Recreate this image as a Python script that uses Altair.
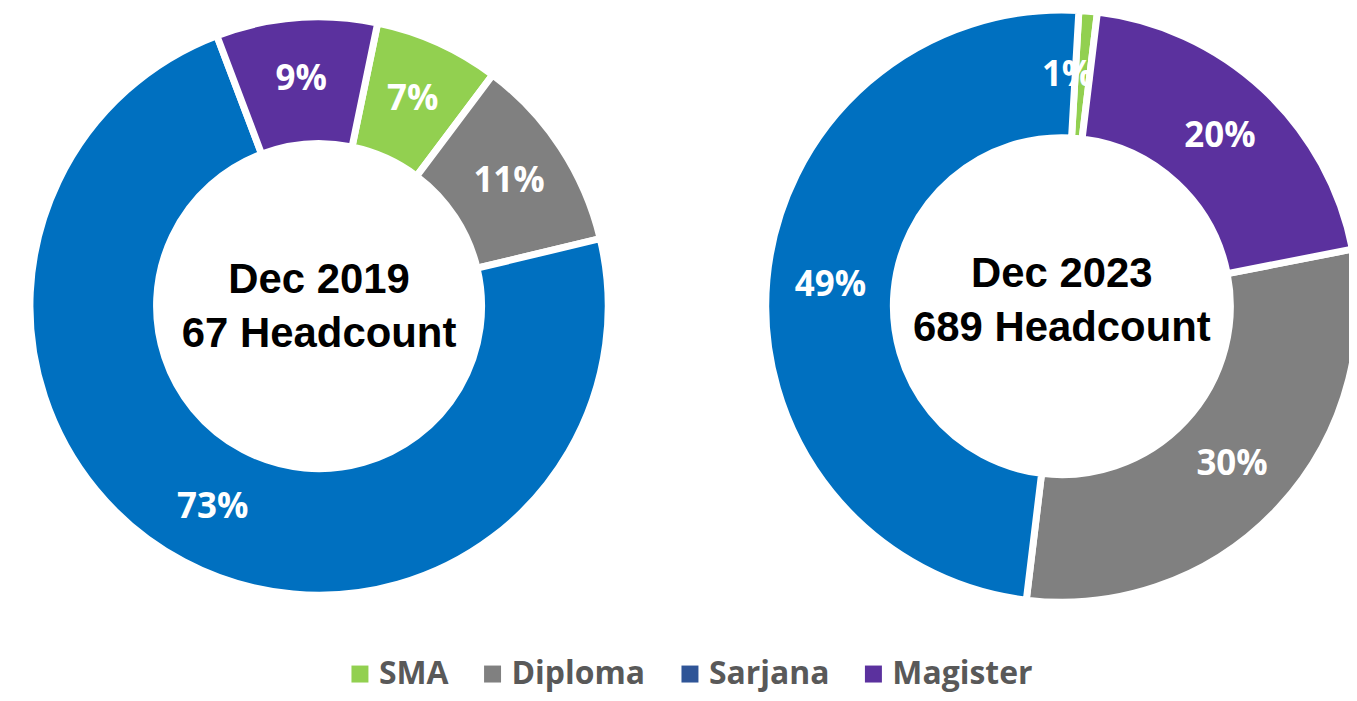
import math
import altair as alt
import pandas as pd

# ---------------- data ----------------
categories = ["SMA", "Diploma", "Sarjana", "Magister"]
slice_colors = ["#92D050", "#808080", "#0070C0", "#5B319E"]
legend_colors = ["#92D050", "#808080", "#2F5597", "#5B319E"]

periods = ["Dec 2019", "Dec 2023"]
headcounts = [67, 689]

# percentages per category (SMA, Diploma, Sarjana, Magister)
pct_2019 = [7, 11, 73, 9]
pct_2023 = [1, 30, 49, 20]

# clockwise drawing order of the slices in each donut
order_2019 = ["SMA", "Diploma", "Sarjana", "Magister"]
order_2023 = ["SMA", "Magister", "Diploma", "Sarjana"]

# rotation of the first slice (degrees, clockwise from 12 o'clock)
start_deg = [11.7, 3.3]

# ---------------- tables ----------------
rows = []
for period, pcts, order in [(periods[0], pct_2019, order_2019), (periods[1], pct_2023, order_2023)]:
    for cat, v in zip(categories, pcts):
        rows.append({"panel": period, "cat": cat, "pct": v,
                     "ord": order.index(cat), "label": f"{v}%"})
df = pd.DataFrame(rows)
centers = pd.DataFrame({"panel": periods, "hc": headcounts})

x_scale = alt.Scale(type="point", domain=periods, range=[312, 1057], padding=0)
# data-driven domain (sorted in category order) for the slice colours
fill_scale = alt.Scale(range=slice_colors)


def donut(i, outer, inner, label_r, text_y, small_dx):
    p = periods[i]
    a0 = math.radians(start_deg[i])
    theta = alt.Theta("pct:Q", stack=True,
                      scale=alt.Scale(range=[a0, a0 + 2 * math.pi]))
    base = alt.Chart(df).transform_filter(alt.datum.panel == p)
    common = dict(
        x=alt.X("panel:N", scale=x_scale, axis=None),
        y=alt.value(298),
        theta=theta,
        order=alt.Order("ord:Q"),
    )
    arcs = base.mark_arc(innerRadius=inner, outerRadius=outer,
                         stroke="white", strokeWidth=7).encode(
        fill=alt.Fill("cat:N", sort=categories, scale=fill_scale, legend=None),
        **common,
    )
    txt_kw = dict(radius=label_r, font="Open Sans", fontSize=35,
                  fontWeight="bold", color="white", align="center",
                  baseline="middle")
    labels = base.mark_text(**txt_kw).encode(
        text="label:N",
        opacity=alt.condition(alt.datum.pct < 3, alt.value(0), alt.value(1)),
        **common,
    )
    labels_small = base.mark_text(dx=small_dx, **txt_kw).encode(
        text="label:N",
        opacity=alt.condition(alt.datum.pct < 3, alt.value(1), alt.value(0)),
        **common,
    )
    center = alt.Chart(centers).transform_filter(
        alt.datum.panel == p
    ).transform_calculate(
        t="datum.panel + '\\n' + datum.hc + ' Headcount'"
    ).mark_text(font="Liberation Sans", fontSize=42, fontWeight="bold",
                color="black", lineBreak="\n", lineHeight=54,
                align="center", baseline="middle").encode(
        x=alt.X("panel:N", scale=x_scale, axis=None),
        y=alt.value(text_y),
        text="t:N",
    )
    return alt.layer(arcs, labels, labels_small, center)


left = donut(0, outer=290, inner=163, label_r=228, text_y=272, small_dx=0)
right = donut(1, outer=297, inner=169, label_r=233, text_y=266, small_dx=-15)

# legend-only layer (its marks sit outside the drawing area)
legend_layer = alt.Chart(pd.DataFrame({"cat": categories})).mark_square(
    size=4, opacity=1
).encode(
    x=alt.value(-20),
    y=alt.value(-20),
    color=alt.Color(
        "cat:N",
        scale=alt.Scale(domain=categories, range=legend_colors),
        legend=alt.Legend(
            title=None, orient="none", legendX=337, legendY=651,
            direction="horizontal", symbolType="square", symbolSize=290,
            symbolOpacity=1, symbolStrokeWidth=0,
            labelFont="Open Sans", labelFontSize=32, labelFontWeight="bold",
            labelColor="#595959", labelOffset=3, columnPadding=28,
            padding=0,
        ),
    ),
)

chart = alt.layer(left, right, legend_layer).resolve_scale(
    theta="independent"
).properties(
    width=1345, height=685, padding=0,
    autosize=alt.AutoSizeParams(type="none"),
    background="white",
).configure_view(stroke=None)

chart.save("out.html", embed_options={"renderer": "svg", "actions": False})
